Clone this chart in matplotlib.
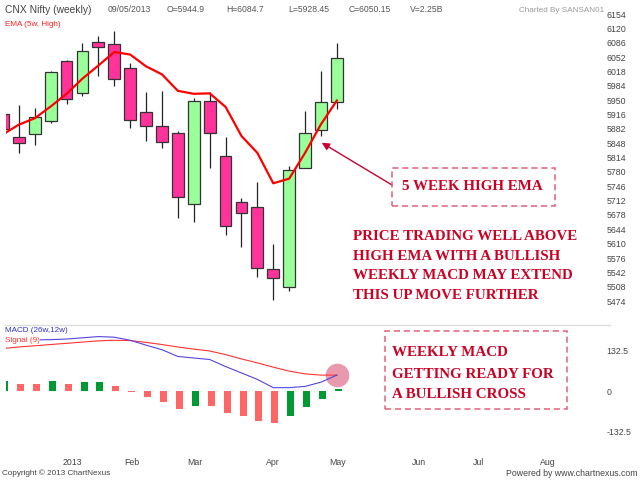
import numpy as np
import matplotlib.pyplot as plt
from matplotlib.patches import Rectangle
from matplotlib.lines import Line2D

plt.rcParams['font.family'] = ['Liberation Sans', 'DejaVu Sans']

# weekly candles, CNX Nifty (index 0 = first visible week)
weeks = np.arange(22)
opens = [5916, 5862, 5869, 5901, 6043, 5968, 6087, 6083, 6027, 5921, 5889,
         5871, 5705, 5948, 5817, 5709, 5696, 5549, 5507, 5790, 5879, 5944.9]
highs = [5917, 5938, 5931, 6020, 6044, 6085, 6102, 6113, 6039, 5970, 5972,
         5878, 5954, 5970, 5863, 5717, 5755, 5609, 5794, 5925, 6020, 6084.7]
lows = [5880, 5824, 5844, 5897, 5940, 5960, 6008, 5984, 5883, 5853, 5836,
        5671, 5662, 5790, 5630, 5603, 5532, 5477, 5499, 5790, 5866, 5928.45]
closes = [5881, 5848, 5909, 6017, 5952, 6066, 6075, 5999, 5903, 5888, 5850,
          5720, 5948, 5873, 5651, 5682, 5553, 5528, 5785, 5871, 5946, 6050.15]
ema_high = [5869, 5892, 5907, 5935, 5965, 6001, 6032, 6064, 6058, 6030, 6011,
            5972, 5965, 5966, 5934, 5865, 5825, 5753, 5764, 5825, 5893, 5949]

macd_line = [166, 166, 167, 168, 170, 174, 178, 176, 166, 150, 135,
             113, 108, 103, 80, 59, 38, 11, 11, 15, 29, 52]
signal_line = [139, 144, 148, 152, 156, 160, 164, 166, 165, 159, 152,
               144, 137, 131, 119, 105, 92, 78, 65, 56, 52, 52]
macd_hist = [32, 24, 23, 32, 24, 29, 30, 18, -3, -20, -36,
             -59, -48, -50, -72, -82, -98, -105, -82, -53, -25, 5]

month_labels = ['2013', 'Feb', 'Mar', 'Apr', 'May', 'Jun', 'Jul', 'Aug']
month_pos = [4.38, 8.11, 12.08, 16.96, 21.07, 26.16, 29.94, 34.28]
price_ticks = list(range(5474, 6155, 34))
macd_ticks = [132.5, 0, -132.5]
macd_tick_labels = ['132.5', '0', '-132.5']

header = ['09/05/2013', 'O=5944.9', 'H=6084.7', 'L=5928.45', 'C=6050.15', 'V=2.25B']


def fx(px):
    return px / 640


def fy(py):
    return 1 - py / 480


fig = plt.figure(figsize=(6.4, 4.8), dpi=100)
ax = fig.add_axes([fx(6), fy(318), fx(597) - fx(6), fy(0) - fy(318)])
ax2 = fig.add_axes([fx(6), fy(450), fx(597) - fx(6), fy(326) - fy(450)])

# --- candles ---
opens_a, closes_a = np.array(opens), np.array(closes)
up = closes_a >= opens_a
body_col = np.where(up, '#99ff99', '#ff3399')
ax.vlines(weeks, lows, highs, color='#222222', lw=0.9, zorder=1)
ax.bar(weeks, np.abs(closes_a - opens_a), 0.74, bottom=np.minimum(opens_a, closes_a),
       color=body_col, edgecolor='#333333', lw=0.9, zorder=2)
ax.plot(weeks, ema_high, color='#ff0000', lw=1.6, zorder=3)

ax.set_xlim(0.19, 37.36)
ax.set_ylim(5433.9, 6187.2)
ax.yaxis.tick_right()
ax.set_yticks(price_ticks)
ax.tick_params(axis='y', length=0, pad=7, labelsize=6.3, labelcolor='#444444')
ax.set_xticks([])
for s in ax.spines.values():
    s.set_visible(False)

# --- MACD panel ---
hist = np.array(macd_hist)
hist_col = ['#009933' if i == 0 or hist[i] > hist[i - 1] else '#ff6666'
            for i in range(len(hist))]
ax2.bar(weeks + 0.1, hist, 0.44, color=hist_col, lw=0, zorder=1)
ax2.scatter([weeks[-1]], [macd_line[-1]], s=290, color='#e899ae', zorder=2, lw=0)
ax2.plot(weeks, signal_line, color='#ff3333', lw=0.8, zorder=3)
ax2.plot(weeks, macd_line, color='#5544dd', lw=0.8, zorder=3)

ax2.set_xlim(0.19, 37.36)
ax2.set_ylim(-192.9, 212.6)
ax2.yaxis.tick_right()
ax2.set_yticks(macd_ticks, macd_tick_labels)
ax2.set_xticks(month_pos, month_labels)
ax2.tick_params(axis='y', length=0, pad=7, labelsize=6.3, labelcolor='#444444')
ax2.tick_params(axis='x', length=0, pad=6, labelsize=6.3, labelcolor='#444444')
for s in ax2.spines.values():
    s.set_visible(False)

fig.add_artist(Line2D([fx(5), fx(610)], [fy(325), fy(325)], color='#dddddd', lw=1))

# --- header / labels ---
fig.text(fx(5), fy(10), 'CNX Nifty (weekly)', fontsize=7.4, color='#444444', va='center')
for x, t in zip([108, 167, 226, 288, 349, 410], header):
    fig.text(fx(x), fy(10), t, fontsize=6.2, color='#555555', va='center')
fig.text(fx(604), fy(10), 'Charted By SANSAN01', fontsize=5.9, color='#999999',
         va='center', ha='right')
fig.text(fx(5), fy(25), 'EMA (5w, High)', fontsize=5.9, color='#ff2222', va='center')
fig.text(fx(5), fy(331), 'MACD (26w,12w)', fontsize=5.9, color='#3333cc', va='center',
         bbox=dict(facecolor='white', edgecolor='none', pad=0.3))
fig.text(fx(5), fy(341), 'Signal (9)', fontsize=5.9, color='#ff3333', va='center',
         bbox=dict(facecolor='white', edgecolor='none', pad=0.3))
fig.text(fx(2), fy(473), 'Copyright \u00a9 2013 ChartNexus', fontsize=5.9,
         color='#444444', va='center')
fig.text(fx(638), fy(473), 'Powered by www.chartnexus.com', fontsize=6.3,
         color='#444444', va='center', ha='right')

# --- annotations ---
red = '#cc0022'
box_col = '#e0607a'
serif = dict(family=['Liberation Serif', 'DejaVu Serif'], weight='bold', color=red,
             fontsize=10.8)

fig.add_artist(Rectangle((fx(392), fy(206)), fx(555) - fx(392), fy(167.7) - fy(206),
                         transform=fig.transFigure, fill=False, ec=box_col,
                         ls=(0, (4, 2.5)), lw=1.1))
fig.text(fx(472), fy(186), '5 WEEK HIGH EMA', ha='center', va='center', **serif)
ax.annotate('', xy=(20.05, 5849), xycoords='data',
            xytext=(fx(392), fy(185)), textcoords='figure fraction',
            arrowprops=dict(arrowstyle='-|>', color='#c80030', lw=1, mutation_scale=11,
                            shrinkA=0, shrinkB=0))

fig.text(fx(353), fy(266), 'PRICE TRADING WELL ABOVE\nHIGH EMA WITH A BULLISH\n'
         'WEEKLY MACD MAY EXTEND\nTHIS UP MOVE FURTHER',
         ha='left', va='center', linespacing=1.66, **serif)

fig.add_artist(Rectangle((fx(385), fy(409)), fx(567) - fx(385), fy(331) - fy(409),
                         transform=fig.transFigure, fill=False, ec=box_col,
                         ls=(0, (4, 2.5)), lw=1.1))
fig.text(fx(392), fy(374), 'WEEKLY MACD\nGETTING READY FOR\nA BULLISH CROSS',
         ha='left', va='center', linespacing=1.8, **serif)

fig.savefig('out.png', dpi=100)
